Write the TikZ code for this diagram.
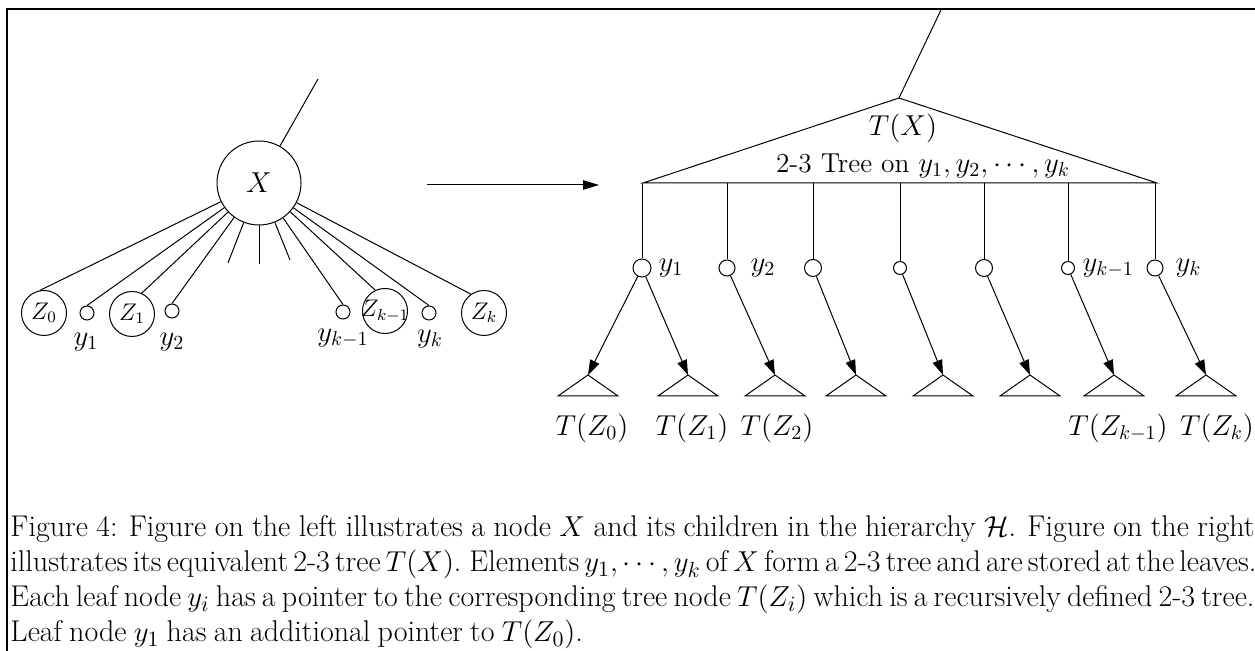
\documentclass[tikz,border=0pt]{standalone}
\usetikzlibrary{arrows.meta}
% interword spacing for the justified caption lines
\newcommand\capspacing{\spaceskip=3.6pt plus 3pt minus 1pt\relax
  \xspaceskip=5pt plus 3pt minus 1pt\relax}
\begin{document}
\begin{tikzpicture}[x=0.5pt,y=-0.5pt,line width=0.5pt,
  kid/.style={circle,draw,inner sep=0pt,minimum size=22.5pt,font=\fontsize{12}{14}\selectfont},
  dot/.style={circle,draw,inner sep=0pt,minimum size=7pt},
  leaf/.style={circle,draw,inner sep=0pt,minimum size=#1pt},
  lab/.style={inner sep=0pt,font=\fontsize{14.4}{17}\selectfont},
  sublab/.style={inner sep=0pt,font=\fontsize{14.5}{17}\selectfont},
  capline/.style={inner sep=0pt,anchor=base west,font=\fontsize{15}{17.5}\selectfont\capspacing},
  ptr/.style={-{Triangle[length=7.5pt,width=5pt]}},
  bigptr/.style={-{Triangle[length=8pt,width=4.7pt]}},
  frame/.style={line width=1pt}]
\useasboundingbox (0,0) rectangle (1255,651);

% frame
\draw[frame] (7,651) -- (7,9) -- (1255,9);

% ---------- left: node X and its children ----------
\node[circle,draw,inner sep=0pt,minimum size=42pt,font=\fontsize{15}{17}\selectfont] (X) at (259,183) {$X$};
\coordinate (xtop) at (318,79);
\draw (X) -- (xtop);

\node[kid] (Z0) at (44,313) {$Z_0$};
\node[kid] (Z1) at (132,314) {$Z_1$};
\node[kid] (Zk1) at (385,311) {\makebox[0pt]{$Z_{k-1}$}};
\node[kid] (Zk) at (484,313) {$Z_k$};
\node[dot] (d1) at (87,313) {};
\node[dot] (d2) at (172,311) {};
\node[dot] (dk1) at (343,312) {};
\node[dot] (dk) at (429,313) {};

\node[lab] (ly1) at (86,342) {$y_1$};
\node[lab] (ly2) at (172,342) {$y_2$};
\node[lab] (lyk1) at (343,338) {$y_{k-1}$};
\node[lab] (lyk) at (430,339) {$y_k$};

\draw (X) -- (Z0.100);
\draw (X) -- (d1.north);
\draw (X) -- (Z1.65);
\draw (X) -- (d2.north);
\draw (X) -- (dk1.north);
\draw (X) -- (Zk1.115);
\draw (X) -- (dk.north);
\draw (X) -- (Zk.125);

\coordinate (s1) at (228,263);
\coordinate (s2) at (259,264);
\coordinate (s3) at (290,260);
\draw (X) -- (s1);
\draw (X) -- (s2);
\draw (X) -- (s3);

% transformation arrow
\coordinate (m1) at (427,185);
\coordinate (m2) at (599,185);
\draw[bigptr] (m1) -- (m2);

% ---------- right: the 2-3 tree T(X) ----------
\coordinate (apex) at (899,98);
\coordinate (bl) at (643,183);
\coordinate (br) at (1157,183);
\coordinate (rtop) at (941,10);
\draw (bl) -- (apex) -- (br) -- cycle;
\draw (apex) -- (rtop);
\node[inner sep=0pt,font=\fontsize{15}{17}\selectfont] (tx) at (903,128) {$T(X)$};
\node[inner sep=0pt,font=\fontsize{13.7}{16}\selectfont] (tt) at (923,166) {2-3 Tree on $y_1,y_2,\cdots,y_k$};

% leaves of the tree
\node[leaf=9] (c1) at (642,268) {};
\node[leaf=8] (c2) at (727,268) {};
\node[leaf=8.5] (c3) at (813,268) {};
\node[leaf=6.5] (c4) at (900,268) {};
\node[leaf=8.5] (c5) at (984,268) {};
\node[leaf=6.5] (c6) at (1068,268) {};
\node[leaf=8] (c7) at (1155,268) {};

\foreach \i/\x in {1/642,2/727,3/813,4/900,5/984,6/1068,7/1155}{
  \coordinate (b\i) at (\x,183);
  \draw (b\i) -- (c\i);
}

\node[lab,anchor=west] (ry1) at (658,268) {$y_1$};
\node[lab,anchor=west] (ry2) at (750,268) {$y_2$};
\node[lab,anchor=west] (ryk1) at (1082,268) {$y_{k-1}$};
\node[lab,anchor=west] (ryk) at (1175,268) {$y_k$};

% subtrees T(Z_i)
\foreach \i/\x in {1/588,2/688,3/775,4/856,5/943,6/1030,7/1114,8/1206}{
  \coordinate (t\i) at (\x,375);
  \draw (t\i) -- ++(-30,21) -- ++(60,0) -- cycle;
}

\draw[ptr] (c1) -- (t1);
\draw[ptr] (c1) -- (t2);
\draw[ptr] (c2) -- (t3);
\draw[ptr] (c3) -- (t4);
\draw[ptr] (c4) -- (t5);
\draw[ptr] (c5) -- (t6);
\draw[ptr] (c6) -- (t7);
\draw[ptr] (c7) -- (t8);

\node[sublab] (tz0) at (592,428) {$T(Z_0)$};
\node[sublab] (tz1) at (692,428) {$T(Z_1)$};
\node[sublab] (tz2) at (777,428) {$T(Z_2)$};
\node[sublab] (tzk1) at (1118,428) {$T(Z_{k-1})$};
\node[sublab] (tzk) at (1217,428) {$T(Z_k)$};

% caption
\node[capline] (cap1) at (10,537) {\makebox[622pt][s]{Figure 4: Figure on the left illustrates a node $X$ and its children in the hierarchy $\mathcal{H}$. Figure on the right}};
\node[capline] (cap2) at (10,572) {\makebox[622pt][s]{illustrates its equivalent 2-3 tree $T(X)$. Elements $y_1,\cdots,y_k$ of $X$ form a 2-3 tree and are stored at the leaves.}};
\node[capline] (cap3) at (10,607) {\makebox[622pt][s]{Each leaf node $y_i$ has a pointer to the corresponding tree node $T(Z_i)$ which is a recursively defined 2-3 tree.}};
\node[capline] (cap4) at (10,642) {Leaf node $y_1$ has an additional pointer to $T(Z_0)$.};
\end{tikzpicture}
\end{document}
